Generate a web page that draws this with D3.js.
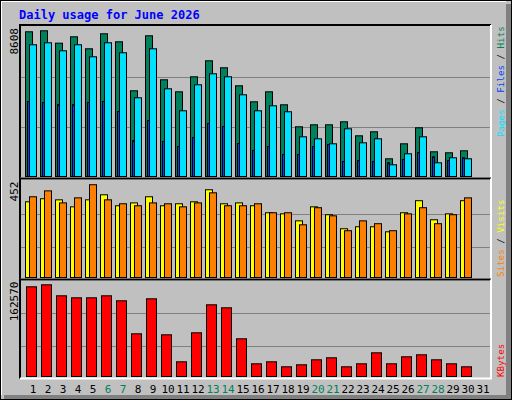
<!DOCTYPE html><html><head><meta charset="utf-8">
<script src="https://cdn.jsdelivr.net/npm/d3@7"></script>
<style>body{margin:0;background:#fff}svg{display:block}</style></head><body>
<svg id="c" width="512" height="400"></svg>
<script>
const days = d3.range(1,32);
const weekend = [6,7,13,14,20,21,27,28];
const hits = [8362,8419,7708,8075,7386,8247,7788,4976,8132,5607,4918,5779,6697,6296,5263,4344,4918,4172,2910,3024,3024,3197,2393,2623,1073,1934,2852,1475,1418,1532];
const files = [7616,7730,7271,7616,6927,7730,7157,4574,7386,5090,3828,5320,5951,5779,4746,3828,4115,3771,2336,2221,1934,2795,1991,2221,729,1360,2336,844,1131,1073];
const pages = [4362,4304,4189,4189,4304,4362,3788,2123,3271,2066,1779,2296,3099,2927,1951,1550,1779,1320,1320,1779,1894,918,976,918,844,1033,1435,1188,976,1131];
const visits = [357,371,366,334,366,389,339,352,380,339,348,357,412,348,352,339,307,302,270,334,298,234,243,243,220,307,362,275,302,362];
const sites = [380,407,352,375,435,366,348,339,352,348,334,352,398,339,339,348,307,307,252,330,293,225,270,257,225,302,330,257,298,375];
const kbytes = [152950,156270,138020,134700,134700,138020,129730,74980,133040,73320,28530,76640,123090,118110,66690,25210,28530,20240,23560,31850,35170,20240,25210,43460,25210,36830,40150,31850,25210,20240];
const maxHits = 8608, maxVisits = 452, maxKB = 162570;

const svg = d3.select("#c");
const F = "DejaVu Sans Mono, monospace";
svg.append("rect").attr("width",512).attr("height",400).attr("fill","#C0C0C0");
svg.append("rect").attr("x",0.5).attr("y",0.5).attr("width",511).attr("height",399).attr("fill","none").attr("stroke","#000");
svg.append("rect").attr("x",506).attr("y",4).attr("width",5).attr("height",395).attr("fill","#808080");
svg.append("rect").attr("x",4).attr("y",395).attr("width",507).attr("height",4).attr("fill","#808080");
svg.append("line").attr("x1",1).attr("y1",1.5).attr("x2",506).attr("y2",1.5).attr("stroke","#fff");
svg.append("line").attr("x1",1.5).attr("y1",1).attr("x2",1.5).attr("y2",395).attr("stroke","#fff");
svg.append("text").attr("x",19).attr("y",19).attr("font-family",F).attr("font-weight","bold").attr("font-size",12).attr("fill","#0000FF").text("Daily usage for June 2026");

const x = d3.scaleBand().domain(days).range([25,490]).paddingInner(0).paddingOuter(0);
const panels = [
 {top:27,base:177,max:maxHits,label:"8608"},
 {top:180.5,base:279.5,max:maxVisits,label:"452"},
 {top:280.5,base:378.5,max:maxKB,label:"162570"}];
panels.forEach(p=>{p.y=d3.scaleLinear().domain([0,p.max]).range([p.base,p.top]);});
const fr=[[20,25,491,178.5],[20,178.5,491,279.5],[20,279.5,491,378.5]];
fr.forEach(([x0,y0,x1,y1])=>{
 svg.append("path").attr("d",`M${x0},${y1}V${y0}H${x1}`).attr("stroke","#000").attr("fill","none").attr("stroke-width",2);
 svg.append("path").attr("d",`M${x1},${y0}V${y1}H${x0}`).attr("stroke","#fff").attr("fill","none").attr("stroke-width",2);
});
panels.forEach(p=>{
 [1/3,2/3].forEach(f=>svg.append("line").attr("x1",21).attr("x2",490).attr("y1",Math.round(p.y(p.max*f))+0.5).attr("y2",Math.round(p.y(p.max*f))+0.5).attr("stroke","#808080"));
 svg.append("text").attr("transform",`translate(18,${p.top+1}) rotate(-90)`).attr("text-anchor","end").attr("font-family",F).attr("font-size",11).attr("fill","#000").text(p.label);
});
function bars(data,p,dx0,dx1,color,gap){
 svg.append("g").selectAll("rect").data(data).join("rect")
  .attr("x",(d,i)=>x(days[i])+dx0+0.5).attr("width",dx1-dx0)
  .attr("y",d=>p.y(d)+0.5).attr("height",d=>Math.max(0,p.base-gap-p.y(d)))
  .attr("fill",color).attr("stroke","#000").attr("stroke-width",1);
}
bars(hits,panels[0],0,7,"#00805C",1);
bars(pages,panels[0],2,4,"#0040FF",1);
bars(files,panels[0],4,11,"#00E0FF",1);
bars(visits,panels[1],0,7,"#FFFF00",2.5);
bars(sites,panels[1],4,11,"#FF8000",2.5);
bars(kbytes,panels[2],1,11,"#FF0000",2.5);

svg.append("g").selectAll("text").data(days).join("text")
 .attr("x",d=>x(d)+8).attr("y",393).attr("text-anchor","middle").attr("font-family",F).attr("font-size",11)
 .attr("fill",d=>weekend.includes(d)?"#00805C":"#000").text(d=>d);

function side(y,parts){
 const t=svg.append("text").attr("transform",`translate(504,${y}) rotate(-90)`).attr("font-family",F).attr("font-size",9.2);
 parts.forEach(([s,c])=>t.append("tspan").attr("fill",c).text(s));
}
side(137,[["Pages","#00E0FF"],[" / ","#000"],["Files","#0040FF"],[" / ","#000"],["Hits","#00805C"]]);
side(277,[["Sites","#FF8000"],[" / ","#000"],["Visits","#FFFF00"]]);
side(377,[["KBytes","#FF0000"]]);
</script></body></html>
